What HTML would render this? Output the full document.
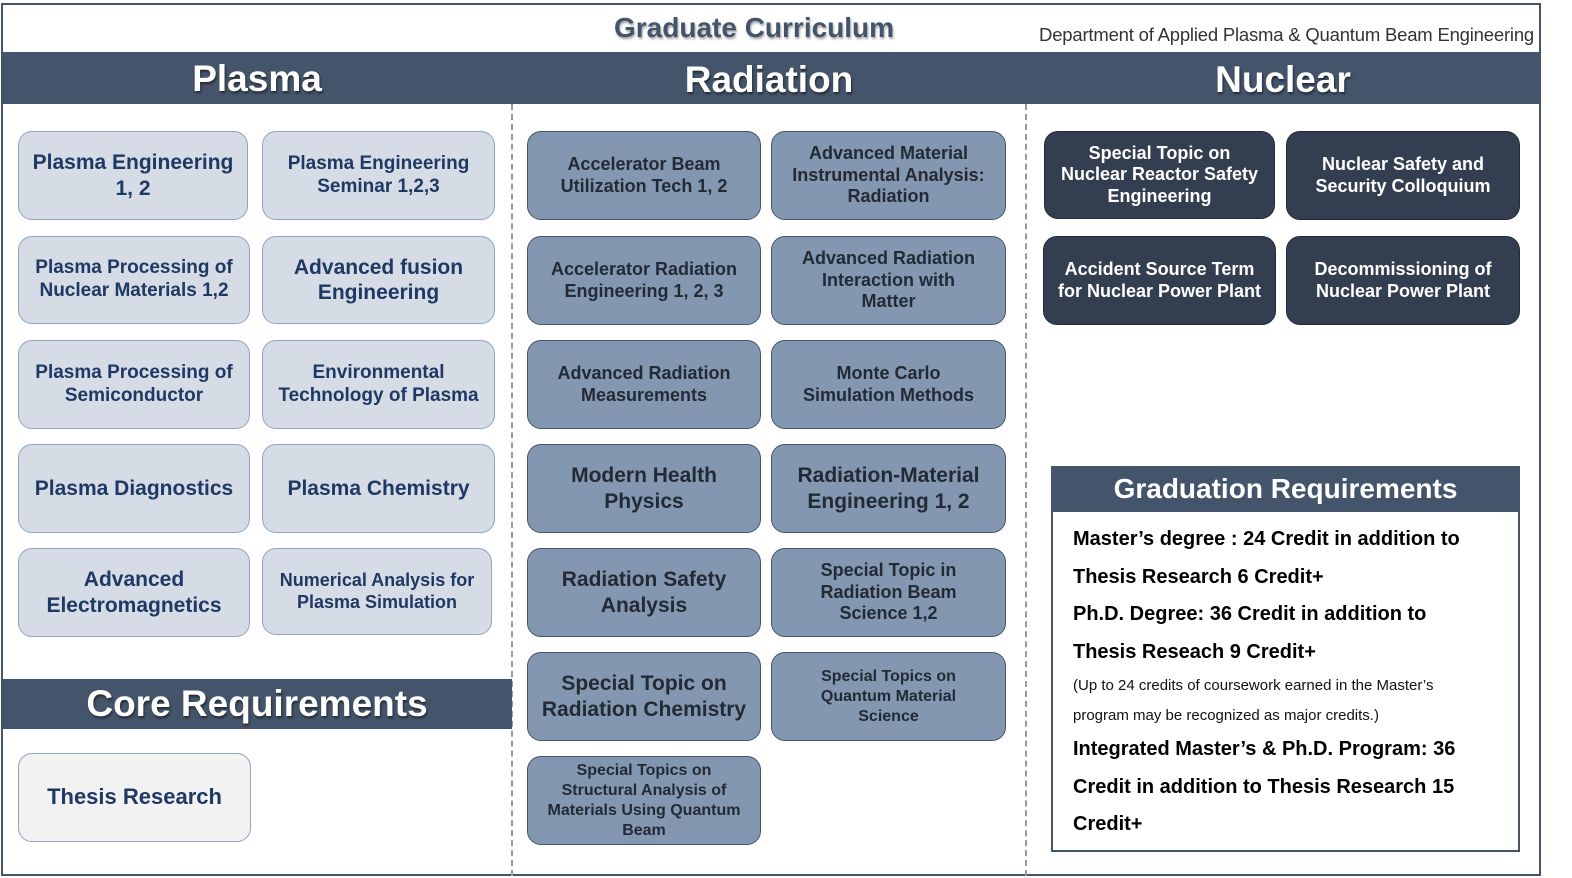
<!DOCTYPE html>
<html><head><meta charset="utf-8"><style>
*{margin:0;padding:0;box-sizing:border-box}
body{width:1572px;height:878px;background:#fff;position:relative;overflow:hidden;font-family:"Liberation Sans","DejaVu Sans",sans-serif}
.a{position:absolute}
.frame{left:1px;top:3px;width:1540px;height:873px;border:2px solid #44546a}
.band{background:#44546a;color:#fff;font-weight:bold;text-align:center;text-shadow:1px 2px 2px rgba(0,0,0,.5)}
.b{position:absolute;border-radius:14px;display:flex;align-items:center;justify-content:center;text-align:center;font-weight:bold;line-height:1.2;padding:0 6px}
.p{background:#d6dce5;border:1.5px solid #8ea4c1;color:#1f3864;font-size:19px}
.r{background:#8497b0;border:1.5px solid #44546a;color:#222a35;font-size:18px}
.n{background:#333f50;border:1.5px solid #222a35;color:#fff;font-size:18px}
.dash{width:0;border-left:2px dashed #999}
.g{font-weight:bold;font-size:20px;color:#000;line-height:37.5px}
</style></head><body>
<div class="a frame"></div>
<div class="a" style="left:614px;top:12px;font-size:28px;font-weight:bold;color:#44546a;text-shadow:1px 2px 2px rgba(0,0,0,.35)">Graduate Curriculum</div>
<div class="a" style="right:38px;top:24px;font-size:18.5px;color:#333;letter-spacing:-0.2px">Department of Applied Plasma &amp; Quantum Beam Engineering</div>
<div class="a band" style="left:2px;top:52px;width:1538px;height:52px"></div>
<div class="a band" style="left:2px;top:54px;width:510px;font-size:37px;line-height:50px;background:none">Plasma</div>
<div class="a band" style="left:512px;top:54px;width:514px;font-size:37px;line-height:52px;background:none">Radiation</div>
<div class="a band" style="left:1026px;top:54px;width:514px;font-size:37px;line-height:52px;background:none">Nuclear</div>
<div class="a dash" style="left:511px;top:104px;height:772px"></div>
<div class="a dash" style="left:1025px;top:104px;height:772px"></div>

<div class="b p" style="left:18px;top:131px;width:230px;height:89px;font-size:21px">Plasma Engineering<br>1, 2</div>
<div class="b p" style="left:262px;top:131px;width:233px;height:89px">Plasma Engineering<br>Seminar 1,2,3</div>
<div class="b p" style="left:18px;top:236px;width:232px;height:88px">Plasma Processing of<br>Nuclear Materials 1,2</div>
<div class="b p" style="left:262px;top:236px;width:233px;height:88px;font-size:21px">Advanced fusion<br>Engineering</div>
<div class="b p" style="left:18px;top:340px;width:232px;height:89px">Plasma Processing of<br>Semiconductor</div>
<div class="b p" style="left:262px;top:340px;width:233px;height:89px">Environmental<br>Technology of Plasma</div>
<div class="b p" style="left:18px;top:444px;width:232px;height:89px;font-size:21px">Plasma Diagnostics</div>
<div class="b p" style="left:262px;top:444px;width:233px;height:89px;font-size:21px">Plasma Chemistry</div>
<div class="b p" style="left:18px;top:548px;width:232px;height:89px;font-size:21px">Advanced<br>Electromagnetics</div>
<div class="b p" style="left:262px;top:548px;width:230px;height:87px;font-size:18px">Numerical Analysis for<br>Plasma Simulation</div>

<div class="a band" style="left:2px;top:679px;width:510px;height:50px;font-size:37px;line-height:50px">Core Requirements</div>
<div class="b p" style="left:18px;top:753px;width:233px;height:89px;background:#f2f2f2;font-size:22px">Thesis Research</div>

<div class="b r" style="left:527px;top:131px;width:234px;height:89px">Accelerator Beam<br>Utilization Tech 1, 2</div>
<div class="b r" style="left:771px;top:131px;width:235px;height:89px">Advanced Material<br>Instrumental Analysis:<br>Radiation</div>
<div class="b r" style="left:527px;top:236px;width:234px;height:89px">Accelerator Radiation<br>Engineering 1, 2, 3</div>
<div class="b r" style="left:771px;top:236px;width:235px;height:89px">Advanced Radiation<br>Interaction with<br>Matter</div>
<div class="b r" style="left:527px;top:340px;width:234px;height:89px">Advanced Radiation<br>Measurements</div>
<div class="b r" style="left:771px;top:340px;width:235px;height:89px">Monte Carlo<br>Simulation Methods</div>
<div class="b r" style="left:527px;top:444px;width:234px;height:89px;font-size:21px">Modern Health<br>Physics</div>
<div class="b r" style="left:771px;top:444px;width:235px;height:89px;font-size:21px">Radiation-Material<br>Engineering 1, 2</div>
<div class="b r" style="left:527px;top:548px;width:234px;height:89px;font-size:21px">Radiation Safety<br>Analysis</div>
<div class="b r" style="left:771px;top:548px;width:235px;height:89px">Special Topic in<br>Radiation Beam<br>Science 1,2</div>
<div class="b r" style="left:527px;top:652px;width:234px;height:89px;font-size:21px">Special Topic on<br>Radiation Chemistry</div>
<div class="b r" style="left:771px;top:652px;width:235px;height:89px;font-size:16px;line-height:1.25">Special Topics on<br>Quantum Material<br>Science</div>
<div class="b r" style="left:527px;top:756px;width:234px;height:89px;font-size:16px;line-height:1.25">Special Topics on<br>Structural Analysis of<br>Materials Using Quantum<br>Beam</div>

<div class="b n" style="left:1044px;top:131px;width:231px;height:88px">Special Topic on<br>Nuclear Reactor Safety<br>Engineering</div>
<div class="b n" style="left:1286px;top:131px;width:234px;height:89px">Nuclear Safety and<br>Security Colloquium</div>
<div class="b n" style="left:1043px;top:236px;width:233px;height:89px">Accident Source Term<br>for Nuclear Power Plant</div>
<div class="b n" style="left:1286px;top:236px;width:234px;height:89px">Decommissioning of<br>Nuclear Power Plant</div>

<div class="a" style="left:1051px;top:466px;width:469px;height:386px;border:2px solid #44546a"></div>
<div class="a band" style="left:1051px;top:466px;width:469px;height:46px;font-size:28px;line-height:46px;text-shadow:none">Graduation Requirements</div>
<div class="a" style="left:1073px;top:521px;width:440px">
<div class="g">Master’s degree : 24 Credit in addition to</div>
<div class="g">Thesis Research 6 Credit+</div>
<div class="g">Ph.D. Degree: 36 Credit in addition to</div>
<div class="g">Thesis Reseach 9 Credit+</div>
<div style="font-size:15px;color:#111;line-height:30px">(Up to 24 credits of coursework earned in the Master’s</div>
<div style="font-size:15px;color:#111;line-height:30px">program may be recognized as major credits.)</div>
<div class="g">Integrated Master’s &amp; Ph.D. Program: 36</div>
<div class="g">Credit in addition to Thesis Research 15</div>
<div class="g">Credit+</div>
</div>
</body></html>
